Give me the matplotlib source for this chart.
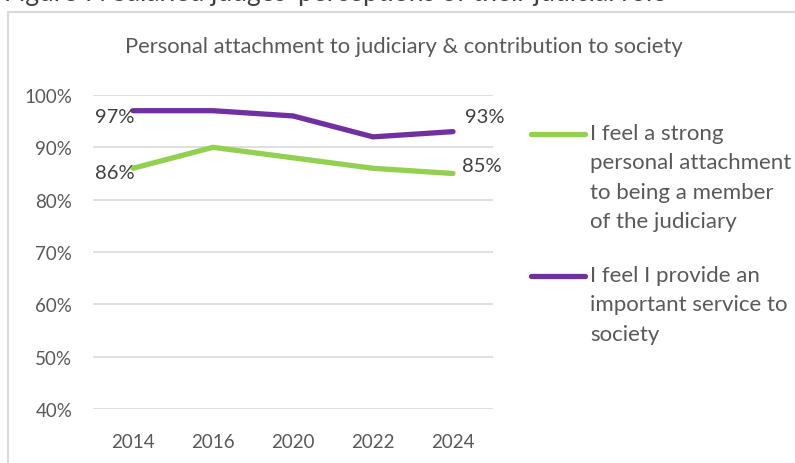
import matplotlib
matplotlib.use("Agg")
import matplotlib.pyplot as plt
from matplotlib.lines import Line2D
from matplotlib.patches import Rectangle

years = ["2014", "2016", "2020", "2022", "2024"]
attachment = [0.86, 0.90, 0.88, 0.86, 0.85]
service = [0.97, 0.97, 0.96, 0.92, 0.93]
yticks = [0.4, 0.5, 0.6, 0.7, 0.8, 0.9, 1.0]
label_attachment = "I feel a strong\npersonal attachment\nto being a member\nof the judiciary"
label_service = "I feel I provide an\nimportant service to\nsociety"

green = "#92D050"
purple = "#7030A0"
grey_txt = "#595959"
W, H = 795, 464

plt.rcParams['font.family'] = ['Lato', 'DejaVu Sans']

fig = plt.figure(figsize=(W / 100, H / 100), dpi=100)

# chart frame (cropped at right/bottom)
fig.patches.append(Rectangle((8 / W, -0.1), 1.2, 1 - 13 / H + 0.1, transform=fig.transFigure,
                             fill=False, edgecolor="#d9d9d9", linewidth=1.5))

# caption above the chart, cropped by the top edge of the image
fig.text(4 / W, 1 - 0.5 / H, "Figure 7: Salaried judges' perceptions of their judicial role",
         fontsize=19, color="#404040", va="baseline", ha="left")

ax = fig.add_axes([93 / W, 1 - 410 / H, 400 / W, (410 - 96) / H])
x = range(len(years))
ax.plot(x, attachment, color=green, lw=3.8, solid_capstyle="round")
ax.plot(x, service, color=purple, lw=3.8, solid_capstyle="round")
ax.set_xlim(-0.5, len(years) - 0.5)
ax.set_ylim(0.4, 1.0)
ax.set_yticks(yticks)
ax.set_yticklabels(["%d%%" % round(v * 100) for v in yticks])
ax.set_xticks(list(x))
ax.set_xticklabels(years)
ax.grid(axis="y", color="#d9d9d9", lw=1.2)
ax.set_axisbelow(True)
for s in ax.spines.values():
    s.set_visible(False)
ax.tick_params(length=0, labelsize=13.5, colors=grey_txt)
ax.tick_params(axis="y", pad=15)
ax.tick_params(axis="x", pad=17)

# data labels at first and last points
lab = dict(fontsize=14.5, color="#404040")
ax.annotate("%d%%" % round(service[0] * 100), (0, service[0]), xytext=(-13, -4),
            textcoords="offset points", ha="center", va="center", **lab)
ax.annotate("%d%%" % round(attachment[0] * 100), (0, attachment[0]), xytext=(-13, -3),
            textcoords="offset points", ha="center", va="center", **lab)
ax.annotate("%d%%" % round(service[-1] * 100), (4, service[-1]), xytext=(23, 11),
            textcoords="offset points", ha="center", va="center", **lab)
ax.annotate("%d%%" % round(attachment[-1] * 100), (4, attachment[-1]), xytext=(21, 6),
            textcoords="offset points", ha="center", va="center", **lab)

fig.text(404 / W, 1 - 47 / H, "Personal attachment to judiciary & contribution to society",
         fontsize=15.8, color=grey_txt, ha="center", va="center")

# legend
for lbl, col, ly in [(label_attachment, green, 135), (label_service, purple, 277)]:
    fig.add_artist(Line2D([531 / W, 585 / W], [1 - ly / H, 1 - ly / H], color=col, lw=3.8,
                          solid_capstyle="round", transform=fig.transFigure))
    fig.text(590 / W, 1 - (ly - 11) / H, lbl, fontsize=16, color=grey_txt,
             ha="left", va="top", linespacing=1.59)

fig.savefig("out.png", dpi=100)
